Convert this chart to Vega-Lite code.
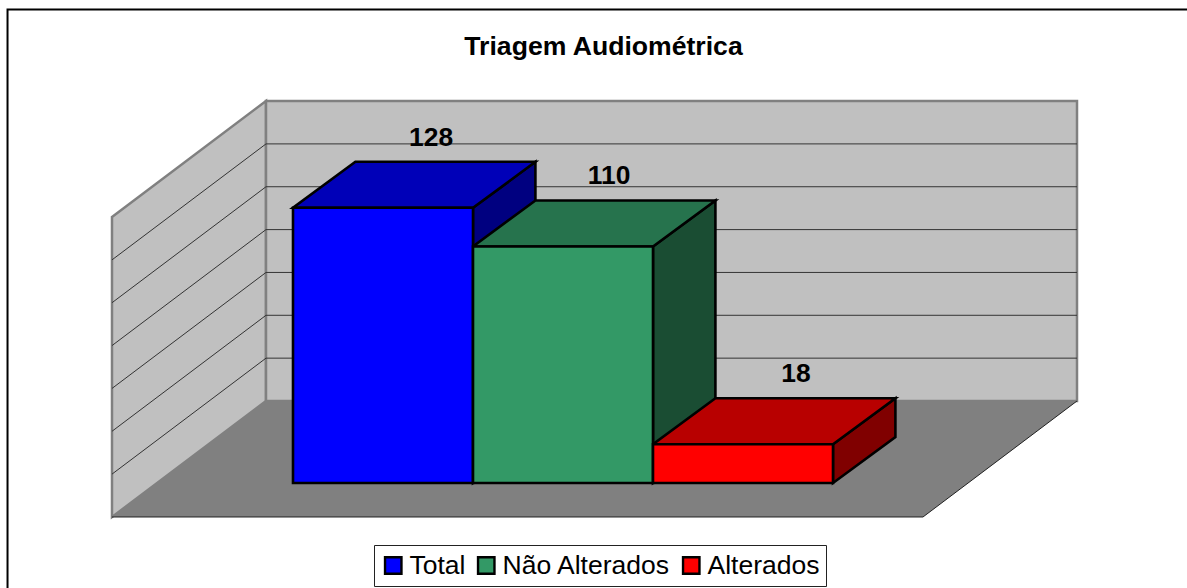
{
"$schema":"https://vega.github.io/schema/vega-lite/v6.json",
"width":1187,"height":588,"padding":0,"autosize":{"type":"none"},"background":"white",
"config":{"view":{"stroke":null},"font":"Liberation Sans"},
"title":{"text":"Triagem Audiométrica","anchor":"middle","frame":"group","offset":-56,"dx":10,"dy":26,"baseline":"alphabetic","font":"Liberation Sans","fontSize":26.6,"fontWeight":"bold","color":"black"},
"datasets":{
"barras":[
{"serie":"Total","valor":128,"inicio":0,"fim":1,"rotulo":0.767},
{"serie":"Não Alterados","valor":110,"inicio":1,"fim":2,"rotulo":1.756},
{"serie":"Alterados","valor":18,"inicio":2,"fim":3,"rotulo":2.794}],
"lados":[
{"serie":"Total","x":1,"y":128,"y2":0},{"serie":"Total","x":1.3467,"y":149.4,"y2":21.4},
{"serie":"Não Alterados","x":2,"y":110,"y2":0},{"serie":"Não Alterados","x":2.3467,"y":131.4,"y2":21.4},
{"serie":"Alterados","x":3,"y":18,"y2":0},{"serie":"Alterados","x":3.3467,"y":39.4,"y2":21.4}],
"topos":[
{"serie":"Total","x":0,"x2":1,"y":128},{"serie":"Total","x":0.3467,"x2":1.3467,"y":149.4},
{"serie":"Não Alterados","x":1,"x2":2,"y":110},{"serie":"Não Alterados","x":1.3467,"x2":2.3467,"y":131.4},
{"serie":"Alterados","x":2,"x2":3,"y":18},{"serie":"Alterados","x":2.3467,"x2":3.3467,"y":39.4}],
"paredes":[
{"parede":"esquerda","x":-1.0056,"y":123.72,"y2":-15.81},{"parede":"esquerda","x":-0.15,"y":177.67,"y2":38.14},
{"parede":"fundo","x":-0.15,"y":177.67,"y2":38.14},{"parede":"fundo","x":4.3556,"y":177.67,"y2":38.14}],
"piso":[{"x":-1.0056,"x2":3.5,"y":-15.81},{"x":-0.15,"x2":4.3556,"y":38.14}],
"grade":[
{"g":20,"o":0,"x":-1.0056,"y":4.12},{"g":20,"o":1,"x":-0.15,"y":58.07},{"g":20,"o":2,"x":4.3556,"y":58.07},
{"g":40,"o":0,"x":-1.0056,"y":24.05},{"g":40,"o":1,"x":-0.15,"y":78},{"g":40,"o":2,"x":4.3556,"y":78},
{"g":60,"o":0,"x":-1.0056,"y":43.98},{"g":60,"o":1,"x":-0.15,"y":97.93},{"g":60,"o":2,"x":4.3556,"y":97.93},
{"g":80,"o":0,"x":-1.0056,"y":63.91},{"g":80,"o":1,"x":-0.15,"y":117.86},{"g":80,"o":2,"x":4.3556,"y":117.86},
{"g":100,"o":0,"x":-1.0056,"y":83.84},{"g":100,"o":1,"x":-0.15,"y":137.79},{"g":100,"o":2,"x":4.3556,"y":137.79},
{"g":120,"o":0,"x":-1.0056,"y":103.77},{"g":120,"o":1,"x":-0.15,"y":157.72},{"g":120,"o":2,"x":4.3556,"y":157.72}],
"bordaPiso":[{"o":0,"x":-1.0056,"y":-15.81},{"o":1,"x":3.5,"y":-15.81},{"o":2,"x":4.3556,"y":38.14}],
"moldura":[{"o":0,"x":-1.586,"y":-48.84},{"o":1,"x":-1.586,"y":220.2},{"o":2,"x":4.9667,"y":220.2}]
},
"layer":[
{"data":{"name":"moldura"},"mark":{"type":"line","stroke":"black","strokeWidth":2},
 "encoding":{"x":{"field":"x","type":"quantitative","axis":null,"scale":{"domain":[-1.6278,4.9667],"nice":false,"zero":false}},"y":{"field":"y","type":"quantitative","axis":null,"scale":{"domain":[-48.84,224.65],"nice":false,"zero":false}},"order":{"field":"o"}}},
{"data":{"name":"paredes"},"mark":{"type":"area","fill":"#c0c0c0","stroke":"#808080","strokeWidth":2.5,"orient":"vertical"},
 "encoding":{"x":{"field":"x","type":"quantitative","axis":null},"y":{"field":"y","type":"quantitative","axis":null},"y2":{"field":"y2"},"detail":{"field":"parede"}}},
{"data":{"name":"grade"},"mark":{"type":"line","stroke":"#333333","strokeWidth":1},
 "encoding":{"x":{"field":"x","type":"quantitative","axis":null},"y":{"field":"y","type":"quantitative","axis":null},"detail":{"field":"g"},"order":{"field":"o"}}},
{"data":{"name":"piso"},"mark":{"type":"area","fill":"#808080","orient":"horizontal"},
 "encoding":{"x":{"field":"x","type":"quantitative","axis":null},"x2":{"field":"x2"},"y":{"field":"y","type":"quantitative","axis":null}}},
{"data":{"name":"bordaPiso"},"mark":{"type":"line","stroke":"#222222","strokeWidth":1},
 "encoding":{"x":{"field":"x","type":"quantitative","axis":null},"y":{"field":"y","type":"quantitative","axis":null},"order":{"field":"o"}}},
{"data":{"name":"lados"},"mark":{"type":"area","stroke":"black","strokeWidth":2.6,"strokeJoin":"miter","orient":"vertical"},
 "encoding":{"x":{"field":"x","type":"quantitative","axis":null},"y":{"field":"y","type":"quantitative","axis":null},"y2":{"field":"y2"},
 "fill":{"field":"serie","type":"nominal","legend":null,"scale":{"domain":["Total","Não Alterados","Alterados"],"range":["#000080","#1a4d33","#800000"]}}}},
{"data":{"name":"topos"},"mark":{"type":"area","stroke":"black","strokeWidth":2.6,"strokeJoin":"miter","orient":"horizontal"},
 "encoding":{"x":{"field":"x","type":"quantitative","axis":null},"x2":{"field":"x2"},"y":{"field":"y","type":"quantitative","axis":null},
 "fill":{"field":"serie","type":"nominal","legend":null,"scale":{"domain":["Total","Não Alterados","Alterados"],"range":["#0000b8","#26734d","#b80000"]}}}},
{"data":{"name":"barras"},"mark":{"type":"rect","stroke":"black","strokeWidth":2.6},
 "encoding":{"x":{"field":"inicio","type":"quantitative","axis":null},"x2":{"field":"fim"},"y":{"field":"valor","type":"quantitative","axis":null},"y2":{"datum":0},
 "color":{"field":"serie","type":"nominal","sort":null,"scale":{"domain":["Total","Não Alterados","Alterados"],"range":["#0000ff","#339966","#ff0000"]},
 "legend":{"title":null,"orient":"none","legendX":374,"legendY":545,"direction":"horizontal","columns":3,"symbolType":"square","symbolSize":270,"symbolStrokeColor":"black","symbolStrokeWidth":2.4,"symbolOpacity":1,"labelFont":"Liberation Sans","labelFontSize":26.5,"labelColor":"black","labelLimit":300,"labelOffset":3,"columnPadding":7,"padding":6,"clipHeight":29,"strokeColor":"#222222","fillColor":"white","symbolOffset":0}}}},
{"data":{"name":"barras"},"mark":{"type":"text","font":"Liberation Sans","fontSize":26.4,"fontWeight":"bold","color":"black","align":"center","baseline":"middle","dy":-70},
 "encoding":{"x":{"field":"rotulo","type":"quantitative","axis":null},"y":{"field":"valor","type":"quantitative","axis":null},"text":{"field":"valor","type":"quantitative"}}}
],
"resolve":{"scale":{"fill":"independent","color":"independent"}}
}
